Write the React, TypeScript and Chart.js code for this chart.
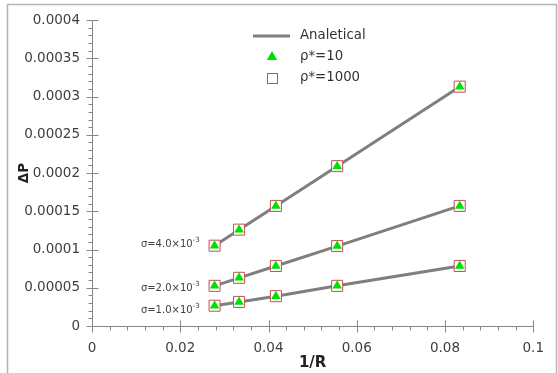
import React, { useEffect, useRef } from "react";
import { Chart, registerables } from "chart.js";

Chart.register(...registerables);

// ---- data ----
const invR = [0.02778, 0.03333, 0.04167, 0.05556, 0.08333];
const dpSigma4 = [0.000105, 0.000126, 0.000157, 0.000209, 0.000313];
const dpSigma2 = [0.0000525, 0.000063, 0.0000785, 0.0001045, 0.000157];
const dpSigma1 = [0.0000265, 0.0000315, 0.000039, 0.0000525, 0.0000785];
const sigmaLabels = ["σ=4.0×10", "σ=2.0×10", "σ=1.0×10"];
const sigmaExponent = "-3";
const legendLabels = ["Analetical", "ρ*=10", "ρ*=1000"];
const xTickValues = [0, 0.02, 0.04, 0.06, 0.08, 0.1];
const yTickValues = [0, 0.00005, 0.0001, 0.00015, 0.0002, 0.00025, 0.0003, 0.00035, 0.0004];
const xTitle = "1/R";
const yTitle = "ΔP";

const FONT = "'DejaVu Sans', sans-serif";
const LINE_COLOR = "#7f7f7f";
const SQUARE_COLOR = "#c0504d";
const TRI_COLOR = "#00e000";
const AXIS_COLOR = "#868686";
const TEXT_COLOR = "#404040";

const toPts = (ys: number[]) => invR.map((x, i) => ({ x, y: ys[i] }));

const series = [dpSigma4, dpSigma2, dpSigma1];

const decorPlugin = {
  id: "decor",
  beforeDraw(chart: any) {
    const { ctx, width, height } = chart;
    ctx.save();
    ctx.fillStyle = "#ffffff";
    ctx.fillRect(0, 0, width, height);
    ctx.strokeStyle = "#b4b4b4";
    ctx.lineWidth = 1.5;
    ctx.beginPath();
    ctx.moveTo(7.5, height + 2);
    ctx.lineTo(7.5, 4.5);
    ctx.lineTo(556.5, 4.5);
    ctx.lineTo(556.5, height + 2);
    ctx.stroke();
    ctx.restore();
  },
  afterDraw(chart: any) {
    const { ctx } = chart;
    const xs = chart.scales.x;
    const ys = chart.scales.y;
    const x0 = Math.round(xs.getPixelForValue(0)) + 0.5;
    const y0 = Math.round(ys.getPixelForValue(0)) + 0.5;
    ctx.save();
    ctx.strokeStyle = AXIS_COLOR;
    ctx.lineWidth = 1;
    // x ticks
    for (let i = 0; i <= 25; i++) {
      const px = Math.round(xs.getPixelForValue(i * 0.004)) + 0.5;
      ctx.beginPath();
      if (i % 5 === 0) {
        ctx.moveTo(px, y0 - 6);
        ctx.lineTo(px, y0 + 6);
      } else {
        ctx.moveTo(px, y0);
        ctx.lineTo(px, y0 + 4);
      }
      ctx.stroke();
    }
    // y ticks
    for (let i = 0; i <= 40; i++) {
      const py = Math.round(ys.getPixelForValue(i * 0.00001)) + 0.5;
      ctx.beginPath();
      if (i % 5 === 0) {
        ctx.moveTo(x0 - 6, py);
        ctx.lineTo(x0 + 6, py);
      } else {
        ctx.moveTo(x0 - 4, py);
        ctx.lineTo(x0, py);
      }
      ctx.stroke();
    }

    // sigma labels
    const offsets = [-1, 3, 5];
    series.forEach((s, k) => {
      const px = xs.getPixelForValue(invR[0]) - 15;
      const py = ys.getPixelForValue(s[0]) + offsets[k];
      ctx.font = `7px ${FONT}`;
      const ew = ctx.measureText(sigmaExponent).width;
      ctx.fillStyle = TEXT_COLOR;
      ctx.textBaseline = "middle";
      ctx.textAlign = "left";
      ctx.fillText(sigmaExponent, px - ew, py - 5);
      ctx.font = `10px ${FONT}`;
      ctx.textAlign = "right";
      ctx.fillText(sigmaLabels[k], px - ew, py);
    });

    // legend
    const lx = 272;
    const ly = [36, 57, 78];
    ctx.strokeStyle = LINE_COLOR;
    ctx.lineWidth = 3;
    ctx.beginPath();
    ctx.moveTo(253, ly[0]);
    ctx.lineTo(290, ly[0]);
    ctx.stroke();
    // triangle
    const r = 6;
    ctx.fillStyle = TRI_COLOR;
    ctx.beginPath();
    ctx.moveTo(lx, ly[1] - r);
    ctx.lineTo(lx + r * Math.sin((2 * Math.PI) / 3), ly[1] + r / 2);
    ctx.lineTo(lx - r * Math.sin((2 * Math.PI) / 3), ly[1] + r / 2);
    ctx.closePath();
    ctx.fill();
    // square
    ctx.strokeStyle = SQUARE_COLOR;
    ctx.lineWidth = 1;
    ctx.strokeRect(lx - 5 + 0.5, ly[2] - 5 + 0.5, 10, 10);
    ctx.fillStyle = "#333333";
    ctx.font = `13.3px ${FONT}`;
    ctx.textAlign = "left";
    ctx.textBaseline = "middle";
    legendLabels.forEach((t, i) => ctx.fillText(t, 300, ly[i]));
    ctx.restore();
  },
};

export default function App() {
  const ref = useRef<HTMLCanvasElement>(null);
  useEffect(() => {
    if (!ref.current) return;
    const datasets: any[] = [];
    series.forEach((s) => {
      datasets.push({
        type: "scatter",
        data: toPts(s),
        pointStyle: "triangle",
        pointRadius: 5.5,
        pointBackgroundColor: TRI_COLOR,
        pointBorderColor: TRI_COLOR,
        pointBorderWidth: 0,
        order: 1,
      });
      datasets.push({
        type: "scatter",
        data: toPts(s),
        pointStyle: "rect",
        pointRadius: 7.8,
        pointBackgroundColor: "#ffffff",
        pointBorderColor: SQUARE_COLOR,
        pointBorderWidth: 1,
        order: 2,
      });
      datasets.push({
        type: "line",
        data: toPts(s),
        borderColor: LINE_COLOR,
        borderWidth: 3,
        pointRadius: 0,
        fill: false,
        tension: 0,
        order: 3,
      });
    });
    const chart = new Chart(ref.current, {
      type: "scatter",
      data: { datasets },
      plugins: [decorPlugin],
      options: {
        animation: false,
        responsive: true,
        maintainAspectRatio: false,
        events: [],
        layout: { padding: { left: 0, top: 17, right: 20, bottom: 0 } },
        plugins: { legend: { display: false }, tooltip: { enabled: false } },
        scales: {
          x: {
            type: "linear",
            min: 0,
            max: 0.1,
            afterBuildTicks: (s: any) => {
              s.ticks = xTickValues.map((v) => ({ value: v }));
            },
            afterFit: (s: any) => {
              s.height = 47;
            },
            ticks: {
              font: { family: FONT, size: 13.5 },
              color: TEXT_COLOR,
              padding: 14,
              maxRotation: 0,
              callback: (v: any) => String(parseFloat(Number(v).toFixed(3))),
            },
            grid: { display: false, drawTicks: false, tickLength: 0 },
            border: { display: true, color: AXIS_COLOR, width: 1 },
            title: {
              display: true,
              text: xTitle,
              font: { family: FONT, size: 15, weight: "bold" },
              color: "#222222",
              padding: { top: 0, bottom: 1 },
            },
          },
          y: {
            type: "linear",
            min: 0,
            max: 0.0004,
            afterBuildTicks: (s: any) => {
              s.ticks = yTickValues.map((v) => ({ value: v }));
            },
            afterFit: (s: any) => {
              s.width = 92;
            },
            ticks: {
              font: { family: FONT, size: 13.5 },
              color: TEXT_COLOR,
              padding: 12,
              callback: (v: any) => String(parseFloat(Number(v).toFixed(6))),
            },
            grid: { display: false, drawTicks: false, tickLength: 0 },
            border: { display: true, color: AXIS_COLOR, width: 1 },
            title: {
              display: true,
              text: yTitle,
              font: { family: FONT, size: 13.5, weight: "bold" },
              color: "#222222",
              padding: { top: 16, bottom: 0 },
            },
          },
        },
      },
    });
    return () => chart.destroy();
  }, []);
  return (
    <div style={{ position: "fixed", left: 0, top: 0, width: 558, height: 373 }}>
      <canvas ref={ref} />
    </div>
  );
}
